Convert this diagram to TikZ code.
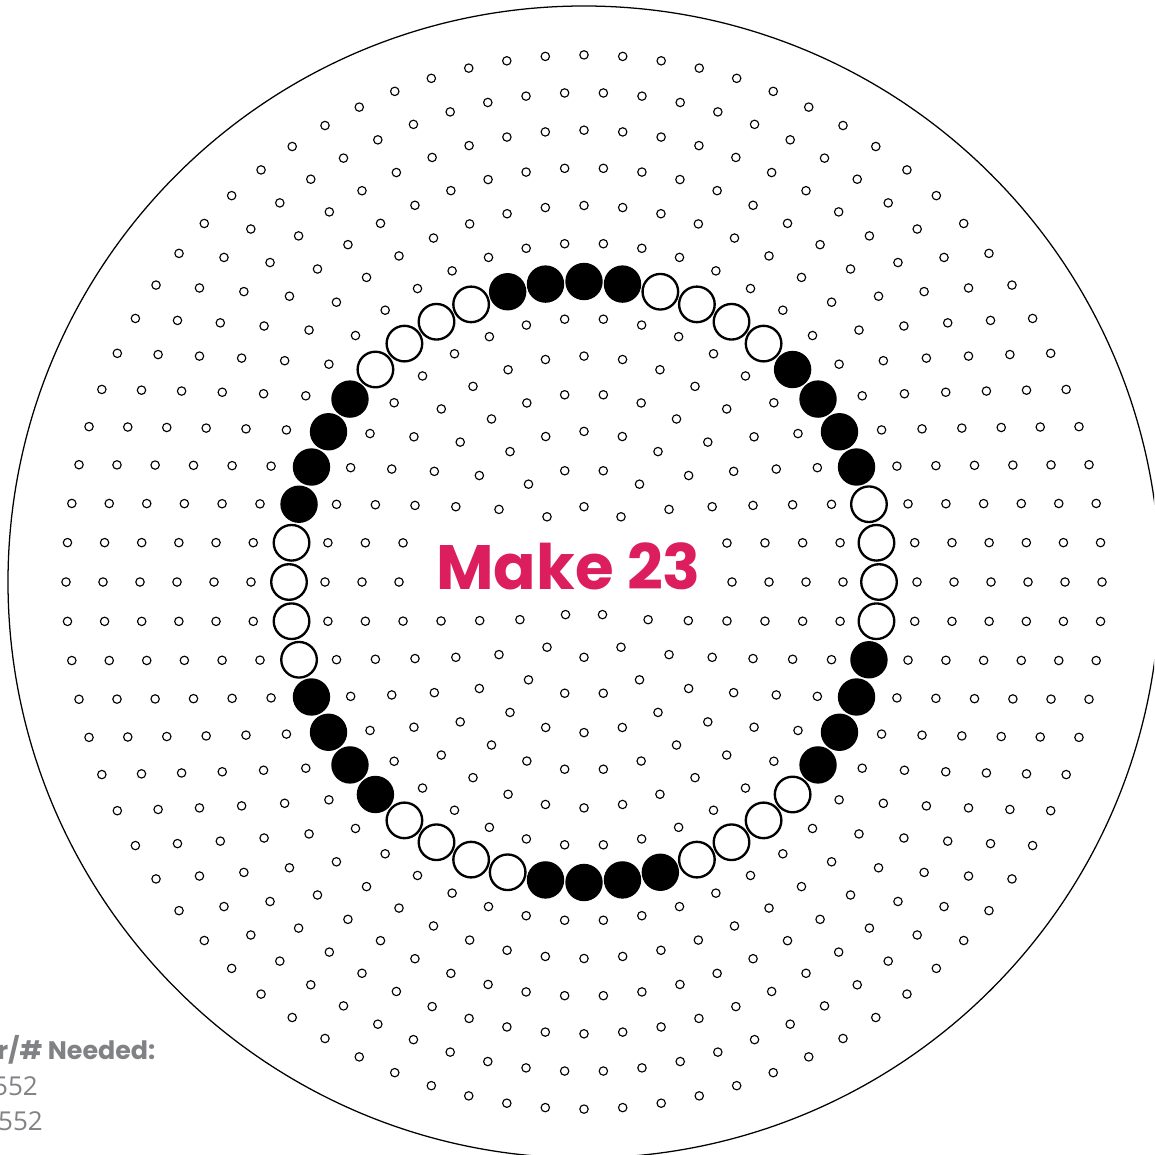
\documentclass[tikz,border=0pt]{standalone}
\usepackage{fontspec}
\newfontfamily\popfont{Poppins}
\newfontfamily\digfont{Open Sans}
\definecolor{makepink}{HTML}{DC1E5F}
\definecolor{graytxt}{HTML}{808285}
\tikzset{
  peg/.style={draw=black, line width=0.85pt},
  whitebead/.style={draw=black, fill=white, line width=1.75pt},
  blackbead/.style={fill=black},
  board/.style={draw=black, line width=0.95pt},
}
\begin{document}
\begin{tikzpicture}[x=0.75pt,y=-0.75pt]
\useasboundingbox (0,0) rectangle (1154,1155);
\clip (0,0) rectangle (1154,1155);
\fill[white] (0,0) rectangle (1154,1155);
% pegboard outline
\draw[board] (584,582) circle[radius=576];
% small pegs on concentric rings (ring k has 6k pegs)
\foreach \k in {1,...,7,9,10,...,14} {
  \pgfmathtruncatemacro\n{6*\k-1}
  \foreach \j in {0,...,\n} {
    \draw[peg] ({584+37.0*\k*cos(\j*60/\k)},{582-37.65*\k*sin(\j*60/\k)}) circle[radius=4.2];
  }
}
% bead ring (48 beads, groups of four)
\foreach \i in {0,...,47} {
  \pgfmathsetmacro\a{105-7.5*\i}
  \pgfmathtruncatemacro\g{mod(floor(\i/4),2)}
  \ifnum\g=0
    \fill[blackbead] ({584+295*cos(\a)},{582-300.5*sin(\a)}) circle[radius=18.7];
  \else
    \draw[whitebead] ({584+295*cos(\a)},{582-300.5*sin(\a)}) circle[radius=17.8];
  \fi
}
% title
\fill[white] (430,527) rectangle (712,605);
\node[anchor=base, inner sep=0pt, text=makepink, font=\popfont\bfseries\fontsize{47}{47}\selectfont] (title) at (568.5,589) {Make 23};
% legend (cropped at left edge)
\node[anchor=base west, inner sep=0pt, text=graytxt, font=\popfont\bfseries\fontsize{19}{19}\selectfont] (needed) at (-3,1059) {r/\# Needed:};
\node[anchor=base east, inner sep=0pt, text=graytxt, font=\digfont\fontsize{19.5}{19.5}\selectfont] (countA) at (38,1095.5) {552};
\node[anchor=base east, inner sep=0pt, text=graytxt, font=\digfont\fontsize{19.5}{19.5}\selectfont] (countB) at (43,1130) {552};
\end{tikzpicture}
\end{document}
